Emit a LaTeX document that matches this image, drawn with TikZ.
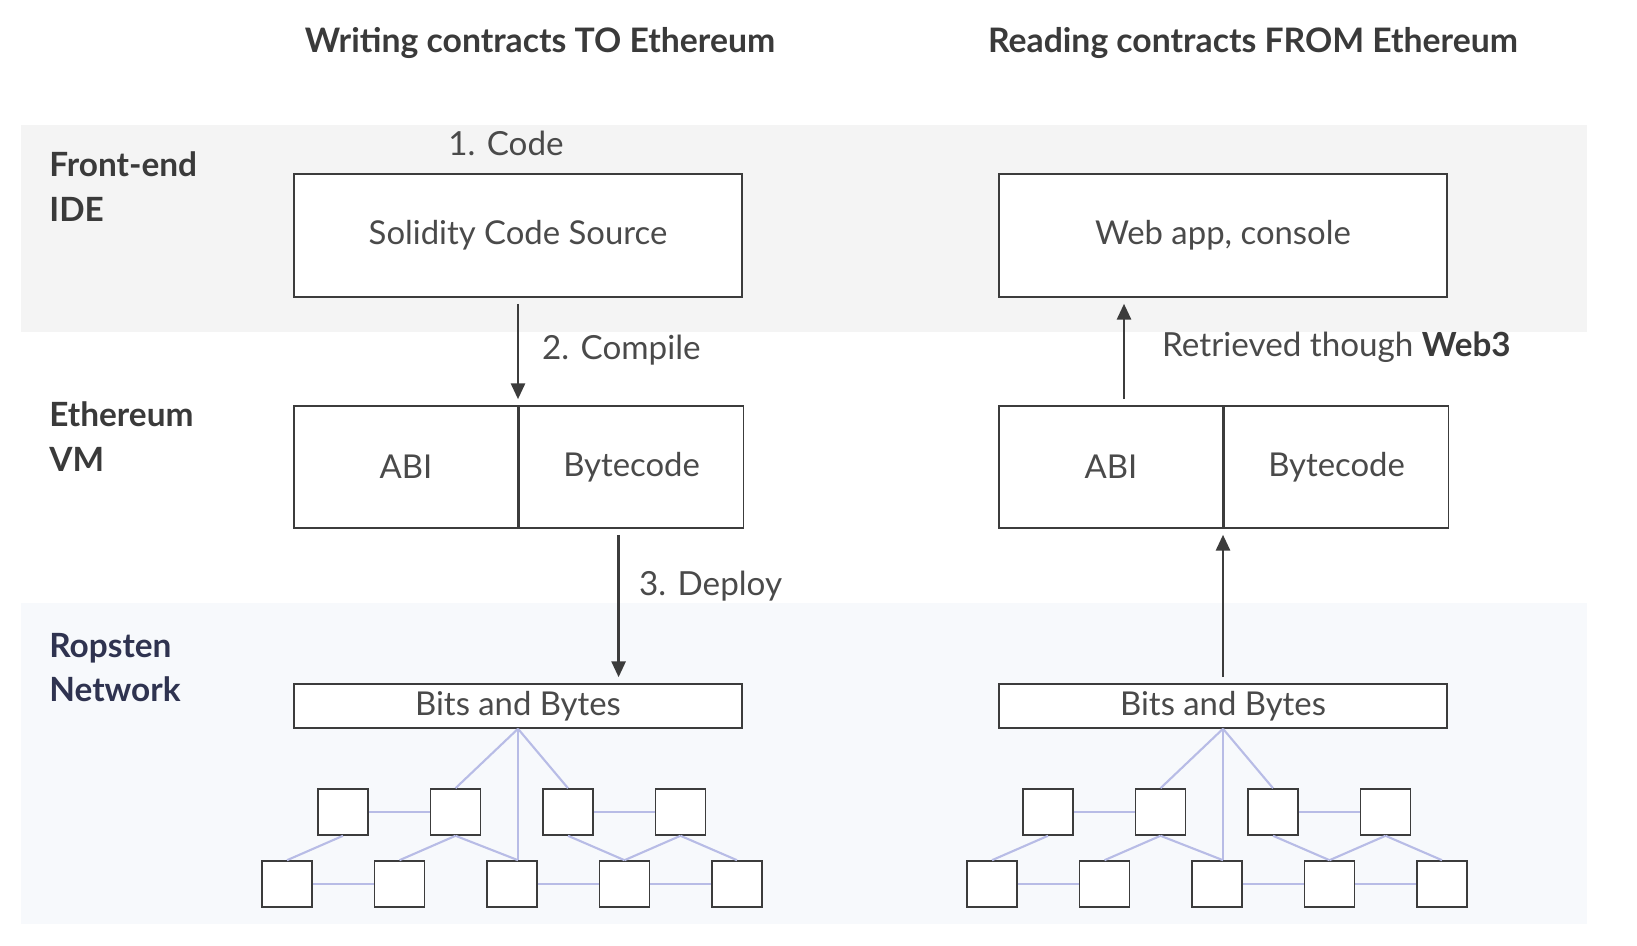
\documentclass[tikz,border=0pt]{standalone}
\usepackage{fontspec}
\setmainfont{Lato}
\usetikzlibrary{positioning,arrows.meta}

\definecolor{bandgray}{HTML}{F4F4F4}
\definecolor{bandblue}{HTML}{F7F9FC}
\definecolor{txtgray}{HTML}{4A4A4A}
\definecolor{headgray}{HTML}{3A3A3A}
\definecolor{labelnavy}{HTML}{2F3350}
\definecolor{linkblue}{HTML}{B8BCE6}
\definecolor{edgegray}{HTML}{3C3C3C}

\tikzset{
  codebox/.style={draw=edgegray, line width=0.9pt, fill=white,
    minimum width=8.96cm, minimum height=2.46cm, inner sep=0pt,
    text=txtgray, font=\fontsize{18.7}{20}\selectfont},
  halfbox/.style={codebox, minimum width=4.48cm, minimum height=2.44cm},
  bitsbox/.style={codebox, minimum height=0.88cm},
  peer/.style={draw=edgegray, line width=0.9pt, fill=white,
    minimum width=1cm, minimum height=0.92cm, inner sep=0pt},
  link/.style={draw=linkblue, line width=1.2pt},
  flow/.style={draw=edgegray, line width=1.4pt,
    shorten <=0.12cm, shorten >=0.12cm,
    -{Triangle[length=9pt,width=8pt]}},
  steplabel/.style={text=txtgray, font=\fontsize{18.9}{20}\selectfont},
  layer/.style={anchor=west, align=left, text=headgray, inner sep=0pt,
    font=\bfseries\fontsize{19}{25.5}\selectfont},
  heading/.style={text=headgray, font=\bfseries\fontsize{19.2}{22}\selectfont}
}

\begin{document}
\begin{tikzpicture}

\useasboundingbox (0,0) rectangle (32.74,18.92);

% Bands
\fill[bandgray] (0.42,12.28) rectangle (31.74,16.42);
\fill[bandblue] (0.42,0.44) rectangle (31.74,6.86);

% Headings
\node [heading] (writeT) at (10.8,18.06) {Writing contracts TO Ethereum};
\node [heading] (readT) at (25.06,18.06) {Reading contracts FROM Ethereum};

% Layers
\node [layer] (ideL) at (0.98,15.19) {Front-end\\IDE};
\node [layer] (vmL) at (0.98,10.19) {Ethereum\\VM};
\node [layer, text=labelnavy] (netL) at (0.98,5.57) {Ropsten\\Network};

% Writing side
\node [codebox] (codeL) at (10.36,14.21) {Solidity Code Source};
\node [halfbox] (abiL) at (8.12,9.58) {ABI};
\node [halfbox, anchor=west] (bytecodeL) at (abiL.east) {Bytecode};
\node [bitsbox] (bitsL) at (10.36,4.8) {Bits and Bytes};

% Reading side
\node [codebox] (webR) at (24.46,14.21) {Web app, console};
\node [halfbox] (abiR) at (22.22,9.58) {ABI};
\node [halfbox, anchor=west] (bytecodeR) at (abiR.east) {Bytecode};
\node [bitsbox] (bitsR) at (24.46,4.8) {Bits and Bytes};

% Networks
\foreach \side/\cx in {L/10.36,R/24.46}{
  \foreach \i/\dx in {1/-3.5,2/-1.25,3/1.0,4/3.25}
    \node [peer] (t\side\i) at (\cx+\dx,2.68) {};
  \foreach \i/\dx in {1/-4.62,2/-2.37,3/-0.12,4/2.13,5/4.38}
    \node [peer] (b\side\i) at (\cx+\dx,1.24) {};
  \coordinate (hub\side) at (bits\side.south |- b\side3.north);
  \draw [link] (bits\side.south) -- (t\side2.north);
  \draw [link] (bits\side.south) -- (t\side3.north);
  \draw [link] (bits\side.south) -- (hub\side);
  \draw [link] (t\side1) -- (t\side2);
  \draw [link] (t\side3) -- (t\side4);
  \draw [link] (b\side1) -- (b\side2);
  \draw [link] (b\side3) -- (b\side4);
  \draw [link] (b\side4) -- (b\side5);
  \draw [link] (t\side1.south) -- (b\side1.north);
  \draw [link] (t\side2.south) -- (b\side2.north);
  \draw [link] (t\side2.south) -- (hub\side);
  \draw [link] (t\side3.south) -- (b\side4.north);
  \draw [link] (t\side4.south) -- (b\side4.north);
  \draw [link] (t\side4.south) -- (b\side5.north);
}

% Steps
\node [steplabel] (codeS) at (10.12,16.06) {1. Code};
\draw [flow] (codeL.south) -- (codeL.south |- abiL.north);
\node [steplabel, anchor=west] (compileS) at (10.72,11.92) {2. Compile};
\draw [flow] ([xshift=-0.26cm]bytecodeL.south) -- ([xshift=-0.26cm]bytecodeL.south |- bitsL.north);
\node [steplabel, anchor=west] (deployS) at (12.66,7.2) {3. Deploy};

\draw [flow] ([xshift=0.26cm]abiR.north) -- ([xshift=0.26cm]abiR.north |- webR.south);
\node [steplabel, anchor=west] (web3S) at (23.12,11.98) {Retrieved though \textcolor{headgray}{\textbf{Web3}}};
\draw [flow] (bitsR.north) -- (bitsR.north |- abiR.south);

\end{tikzpicture}
\end{document}
